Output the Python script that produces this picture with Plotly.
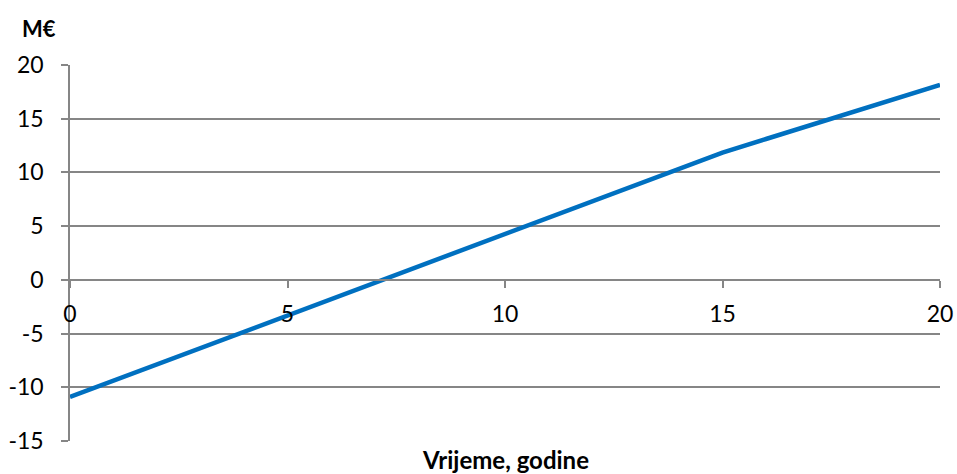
import plotly.graph_objects as go

# Kumulativni novčani tok (M€) po godinama
years = list(range(0, 21))
values = [-10.9, -9.38, -7.87, -6.35, -4.83, -3.32, -1.80, -0.28, 1.24, 2.75,
          4.27, 5.79, 7.30, 8.82, 10.34, 11.85, 13.11, 14.37, 15.63, 16.89, 18.15]

x_ticks = [0, 5, 10, 15, 20]
y_ticks = [-15, -10, -5, 0, 5, 10, 15, 20]
# Excel-style labels with a plain hyphen as minus sign
y_labels = [str(v) for v in y_ticks]

FONT = "Lato, 'Open Sans', sans-serif"
AXIS_GREY = "#868686"

fig = go.Figure()
fig.add_trace(go.Scatter(
    x=years, y=values, mode="lines",
    line=dict(color="#0070C0", width=4.5),
    showlegend=False,
))

fig.update_layout(
    width=957, height=474,
    paper_bgcolor="white", plot_bgcolor="white",
    margin=dict(l=70, r=17, t=65, b=33),
    font=dict(family=FONT, size=23, color="black"),
    xaxis=dict(
        range=[0, 20], tickvals=x_ticks,
        anchor="free", position=15 / 35,   # x axis crosses y at 0
        showline=True, linecolor=AXIS_GREY, linewidth=1.5,
        ticks="outside", ticklen=7, tickcolor=AXIS_GREY, tickwidth=1.5,
        showgrid=False, zeroline=False,
        ticklabelstandoff=7, automargin=False,
        ticklabeloverflow="allow",
    ),
    yaxis=dict(
        range=[-15, 20], tickvals=y_ticks, ticktext=y_labels,
        showline=True, linecolor=AXIS_GREY, linewidth=1.5,
        ticks="outside", ticklen=7, tickcolor=AXIS_GREY, tickwidth=1.5,
        showgrid=True, gridcolor=AXIS_GREY, gridwidth=1.5,
        zeroline=False,
        ticklabelstandoff=13, automargin=False,
    ),
    annotations=[
        dict(text="<b>M€</b>", xref="paper", yref="paper", x=-0.058, y=1.098,
             xanchor="left", yanchor="middle", showarrow=False,
             font=dict(size=22)),
        dict(text="<b>Vrijeme, godine</b>", xref="paper", yref="paper", x=0.5, y=-0.048,
             xanchor="center", yanchor="middle", showarrow=False,
             font=dict(size=24)),
    ],
)

# drop the default 8px body margin so the figure fills the window exactly
fig.write_html("out.html",
               config={"displayModeBar": False},
               post_script="document.body.style.margin='0';document.body.style.overflow='hidden';")
